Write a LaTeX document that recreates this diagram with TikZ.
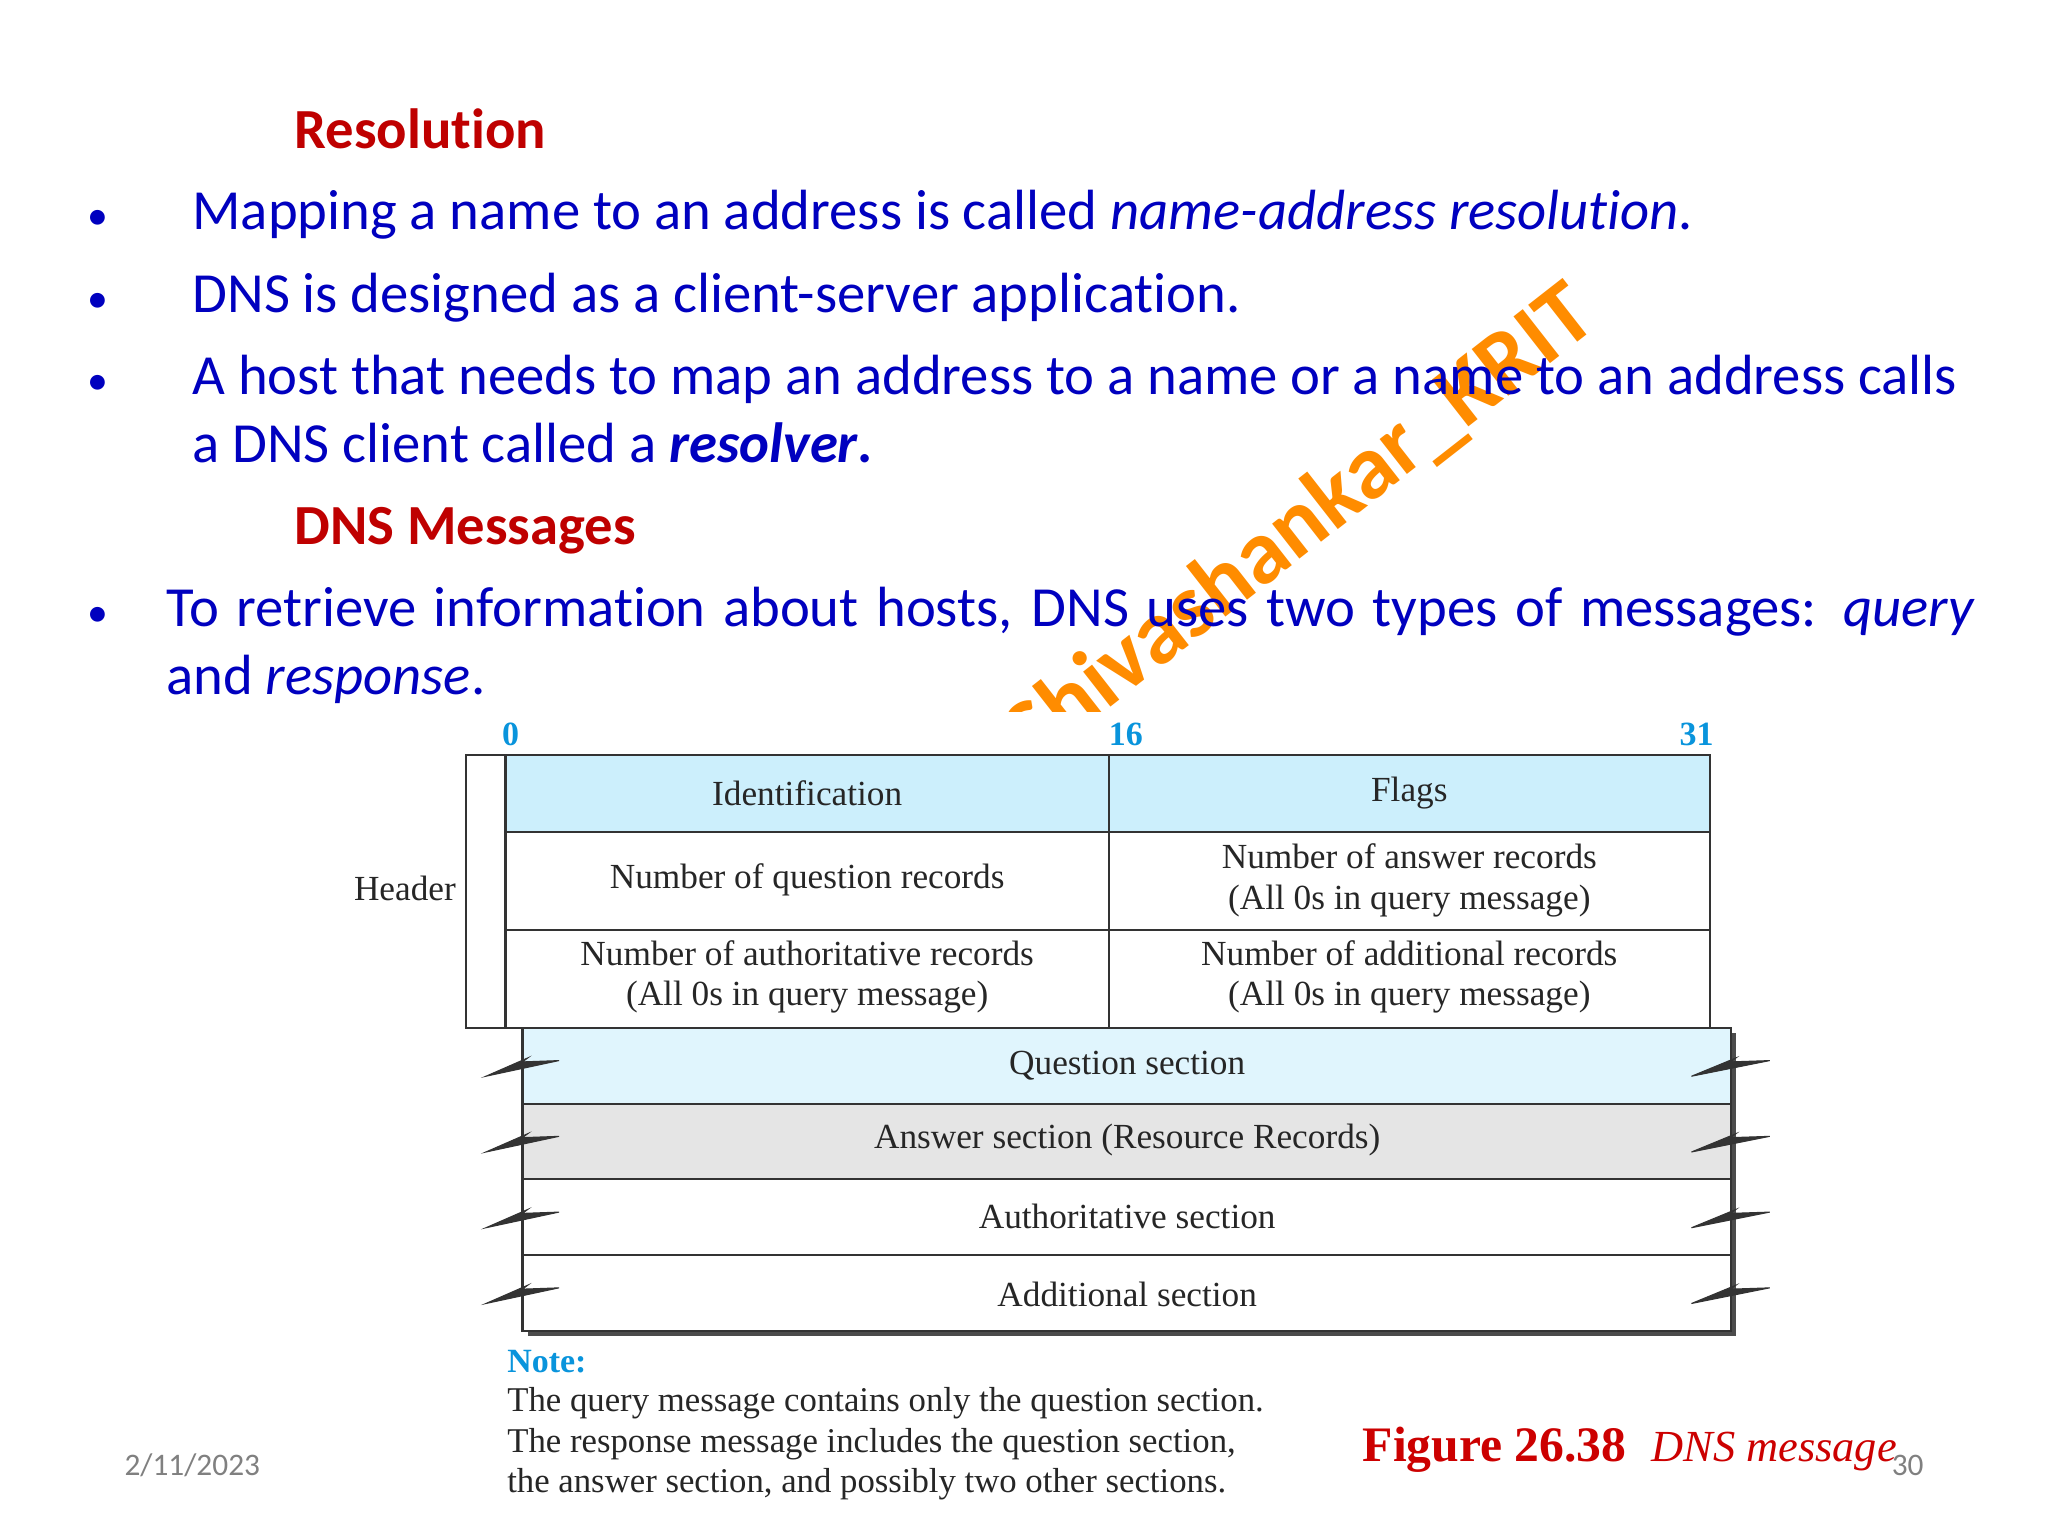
\documentclass[tikz,border=0pt]{standalone}
\usepackage{fontspec}
\setmainfont{Carlito}[Ligatures=NoCommon]
\newfontfamily\serif{Liberation Serif}
\begin{document}
\begin{tikzpicture}[x=0.5pt,y=-0.5pt,
 body/.style={anchor=base west,text=blue!75!black,font=\fontsize{21.7}{26}\selectfont,inner sep=0},
 head/.style={anchor=base west,text=red!75!black,font=\fontsize{21.7}{26}\selectfont\bfseries,inner sep=0},
 bul/.style={anchor=base,text=blue!75!black,font=\fontsize{16}{20}\selectfont,inner sep=0},
 cell/.style={font=\serif\fontsize{13.5}{15.5}\selectfont,align=center,text=black!85},
 num/.style={font=\serif\fontsize{13}{15}\selectfont\bfseries,text=cyan!80!blue},
 zig/.style={fill=black!80,draw=black!80,line width=0.4pt}]
\useasboundingbox (0,0) rectangle (1568,1176);
\fill[white] (0,0) rectangle (1568,1176);
% watermark
\node[rotate=38,text=orange!90!yellow,font=\fontsize{35}{40}\selectfont\bfseries,anchor=base] (wm) at (1008,418) {Shivashankar\_KRIT};
\fill[white] (95,545) rectangle (1568,1176);
% text
\node[head] (h1) at (225,114) {Resolution};
\node[bul] (b1) at (75,176) {•};
\node[body] (t1) at (147,176) {Mapping a name to an address is called \textit{name-address resolution.}};
\node[bul] (b2) at (75,239) {•};
\node[body] (t2) at (147,239) {DNS is designed as a client-server application.};
\node[bul] (b3) at (75,302) {•};
\node[body] (t3) at (147,302) {A host that needs to map an address to a name or a name to an address calls};
\node[body] (t3b) at (147,354) {a DNS client called a \textbf{\textit{resolver}.}};
\node[head] (h2) at (225,417) {DNS Messages};
\node[bul] (b4) at (75,480) {•};
\node[body,text width=692pt,align=justify,font=\fontsize{21.7}{26}\selectfont\linespread{1}] (t4) at (127,480) {To retrieve information about hosts, DNS uses two types of messages: \textit{query} and \textit{response}.};
% bit numbers
\node[num] (n0) at (391,562) {0};
\node[num] (n16) at (862,562) {16};
\node[num] (n31) at (1299,562) {31};
% header
\draw[black!80,line width=0.8pt] (357,578) rectangle (387,787);
\fill[cyan!20] (387,578) rectangle (1309,637);
\draw[black!80,line width=0.8pt] (387,578) rectangle (1309,787);
\draw[black!80,line width=0.8pt] (387,637) -- (1309,637) (387,712) -- (1309,712) (849,578) -- (849,787);
\node[cell] (id) at (618,607) {Identification};
\node[cell] (fl) at (1079,607) {Flags};
\node[cell] (q) at (618,674) {Number of question records};
\node[cell] (a) at (1079,674) {Number of answer records\\(All 0s in query message)};
\node[cell] (au) at (618,748) {Number of authoritative records\\(All 0s in query message)};
\node[cell] (ad) at (1079,748) {Number of additional records\\(All 0s in query message)};
\node[cell] (hd) at (310,680) {Header};
% sections
\fill[black!70] (404,791) rectangle (1329,1023);
\fill[cyan!12] (400,787) rectangle (1325,845);
\fill[black!10] (400,845) rectangle (1325,903);
\fill[white] (400,903) rectangle (1325,1019);
\draw[black!80,line width=0.8pt] (400,787) rectangle (1325,1019);
\foreach \y in {845,903,961} \draw[black!80,line width=0.8pt] (400,\y) -- (1325,\y);
\foreach \y in {816,874,932,990}{
 \fill[zig] (372,\y+8) -- (428,\y-4) -- (400,\y-3) -- (404,\y-6) -- cycle;
 \fill[zig] (1295,\y+8) -- (1355,\y-4) -- (1325,\y-3) -- (1329,\y-6) -- cycle;
}
\node[cell] (qs) at (863,816) {Question section};
\node[cell] (as) at (863,873) {Answer section (Resource Records)};
\node[cell] (aus) at (863,931) {Authoritative section};
\node[cell] (ads) at (863,991) {Additional section};
% note
\node[num,anchor=base west,inner sep=0] (nt) at (388,1051) {Note:};
\node[cell,anchor=north west,align=left,inner sep=0,font=\serif\fontsize{13.3}{15.5}\selectfont] (ntx) at (388,1062) {The query message contains only the question section.\\The response message includes the question section,\\the answer section, and possibly two other sections.};
\node[anchor=base west,inner sep=0,text=red!80!black,font=\serif\fontsize{19}{22}\selectfont] (fig) at (1043,1119) {\textbf{Figure 26.38}\ \ \textit{\fontsize{17}{18}\selectfont DNS message}};
\node[anchor=base west,inner sep=0,text=black!50,font=\fontsize{12}{13}\selectfont] (dt) at (95,1130) {2/11/2023};
\node[anchor=base west,inner sep=0,text=black!50,font=\fontsize{12}{13}\selectfont] (pg) at (1448,1130) {30};
\end{tikzpicture}
\end{document}
